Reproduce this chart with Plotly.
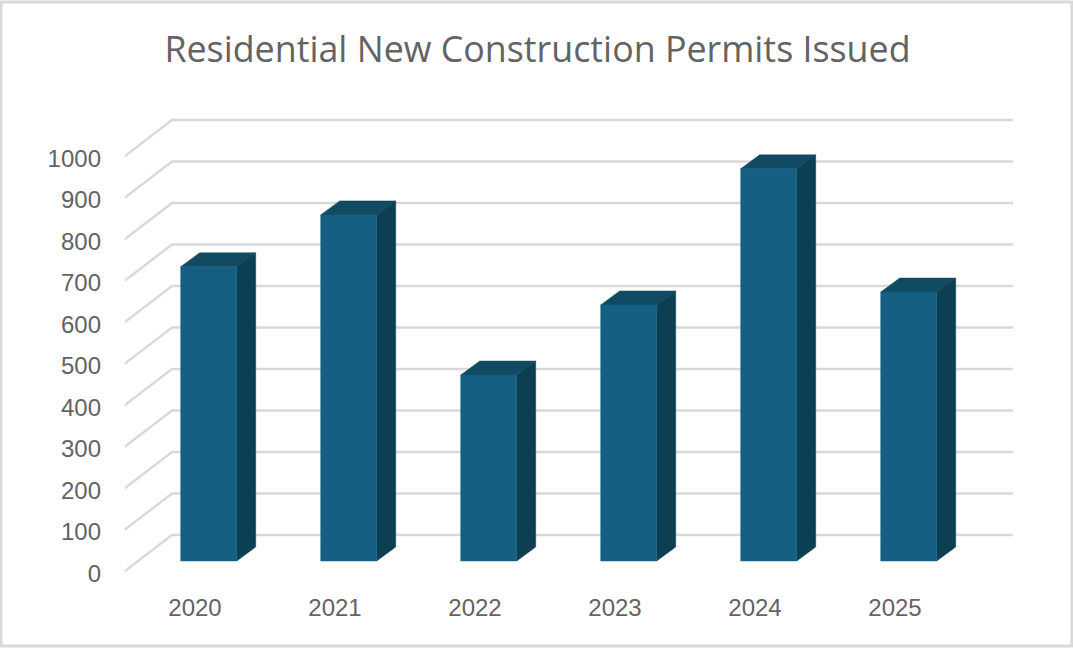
import plotly.graph_objects as go

years = ["2020", "2021", "2022", "2023", "2024", "2025"]
permits = [709, 834, 448, 617, 945, 648]
y_ticks = [0, 100, 200, 300, 400, 500, 600, 700, 800, 900, 1000]
title_text = "Residential New Construction Permits Issued"

W, H = 1073, 648
PX_X = 140.0      # pixels per category
PX_Y = 0.415      # pixels per unit
L, R, T, B = 125, 1013, 100, 590
X0_PX, Y0_PX = 195, 570.5

def dx(px):
    return px / PX_X

def dy(px):
    return px / PX_Y

FRONT = "#156082"
SIDE = "#0D3F52"
TOP = "#104A63"
GRID = "#D9D9D9"
TEXT = "#636363"

fig = go.Figure()

x_left = (L - 2 - X0_PX) / PX_X
x_back = (172 - X0_PX) / PX_X
x_right = (R - X0_PX) / PX_X
for v in y_ticks:
    fig.add_trace(go.Scatter(
        x=[x_left, x_back, x_right],
        y=[v - dy(2), v + dy(35.5), v + dy(35.5)],
        mode="lines", line=dict(color=GRID, width=2.4),
        hoverinfo="skip", showlegend=False, cliponaxis=False))

def face(xs, ys, color):
    fig.add_trace(go.Scatter(
        x=xs, y=ys, mode="lines", fill="toself", fillcolor=color,
        line=dict(color=color, width=0.5),
        hoverinfo="skip", showlegend=False))

base = dy(9.5)
ddx, ddy = dx(19), dy(14)
shift, half = dx(13.7), dx(28)
for i, val in enumerate(permits):
    a, b = i + shift - half, i + shift + half
    lo, hi = base, base + val
    face([a, b, b + ddx, a + ddx, a], [hi, hi, hi + ddy, hi + ddy, hi], TOP)
    face([b, b + ddx, b + ddx, b, b], [lo, lo + ddy, hi + ddy, hi, lo], SIDE)
    face([a, b, b, a, a], [lo, lo, hi, hi, lo], FRONT)

fig.update_layout(
    width=W, height=H, autosize=False,
    margin=dict(l=L, r=W - R, t=T, b=H - B, pad=0),
    paper_bgcolor="white", plot_bgcolor="white",
    showlegend=False,
    font=dict(family="Liberation Sans", color=TEXT, size=24),
    title=dict(text=title_text, x=537.5 / W, xanchor="center", xref="container", yref="container",
               y=1 - 49 / H, yanchor="middle",
               font=dict(family="Open Sans", size=35.8, color=TEXT)),
    xaxis=dict(range=[(L - X0_PX) / PX_X, (R - X0_PX) / PX_X],
               tickmode="array", tickvals=list(range(len(years))), ticktext=years,
               showgrid=False, zeroline=False, showline=False, ticks="",
               ticklabelstandoff=1, fixedrange=True),
    yaxis=dict(range=[(Y0_PX - B) / PX_Y, (Y0_PX - T) / PX_Y],
               tickmode="array", tickvals=[v - dy(3) for v in y_ticks],
               ticktext=[str(v) for v in y_ticks],
               showgrid=False, zeroline=False, showline=False, ticks="",
               ticklabelstandoff=23, fixedrange=True),
    shapes=[dict(type="rect", xref="paper", yref="paper", layer="below",
                 x0=-(L - 1) / (R - L), x1=(W - 1 - L) / (R - L),
                 y0=-(H - 2 - B) / (B - T), y1=1 + (T - 2) / (B - T),
                 line=dict(color="#D9D9D9", width=3), fillcolor="white")],
)

fig.write_html("out.html", config={"displayModeBar": False},
               post_script="document.body.style.margin='0';document.documentElement.style.overflow='hidden';")
